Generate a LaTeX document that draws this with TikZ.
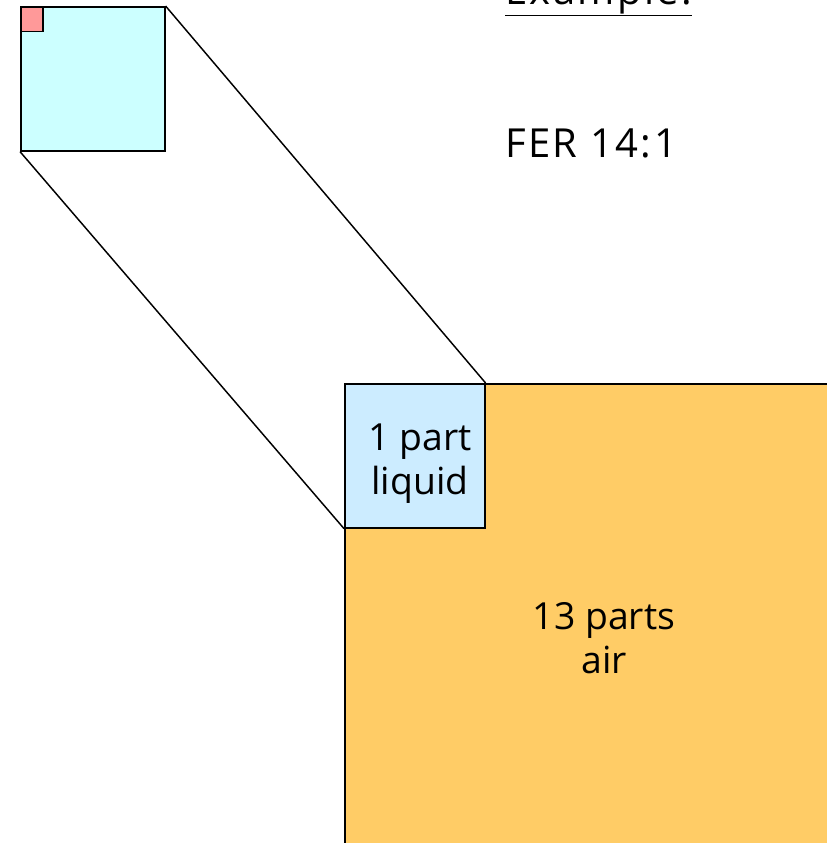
\documentclass[tikz,border=0pt]{standalone}
\usepackage{fontspec}
\setmainfont{Open Sans}
\usepackage{tikz}
\usetikzlibrary{positioning}
\definecolor{zoomcolor}{RGB}{204,255,255}
\definecolor{dropcolor}{RGB}{255,153,153}
\definecolor{liquidcolor}{RGB}{204,236,255}
\definecolor{aircolor}{RGB}{255,204,102}

\begin{document}
\begin{tikzpicture}[x=0.75pt, y=-0.75pt]
  \tikzset{
    box/.style={
      draw,
      line width=1.2pt,
      anchor=north west,
      inner sep=0pt
    },
    label/.style={
      font=\fontsize{28}{33}\selectfont,
      align=center
    },
    heading/.style={
      font=\fontsize{30}{36}\selectfont\addfontfeature{LetterSpace=6},
      anchor=base west,
      inner sep=0pt
    }
  }
  \useasboundingbox (0,0) rectangle (826,843);

  % Mixture: air with the liquid in its corner
  \node[box, fill=aircolor, minimum width=364.5pt, minimum height=350pt] at (344,383) (air) {};
  \node[box, fill=liquidcolor, minimum width=105pt, minimum height=108pt] at (344,383) (liquid) {};
  \node[label] at (420,464) (liquidtext) {1 part\\liquid};
  \node[label] at (604,638) (airtext) {13 parts\\air};

  % Zoomed-out view with the droplet
  \node[box, fill=zoomcolor, minimum width=108pt, minimum height=108pt] at (20,6) (zoom) {};
  \node[box, fill=dropcolor, minimum width=16.5pt, minimum height=18.5pt] at (20,6) (drop) {};

  % Projection lines
  \draw[line width=1.1pt] (zoom.north east) -- (liquid.north east);
  \draw[line width=1.1pt] (zoom.south west) -- (liquid.south west);

  % Titles
  \node[heading] at (505,4) (title) {\underline{Example:}};
  \node[heading] at (505,157) (ratio) {FER 14:1};
\end{tikzpicture}
\end{document}
